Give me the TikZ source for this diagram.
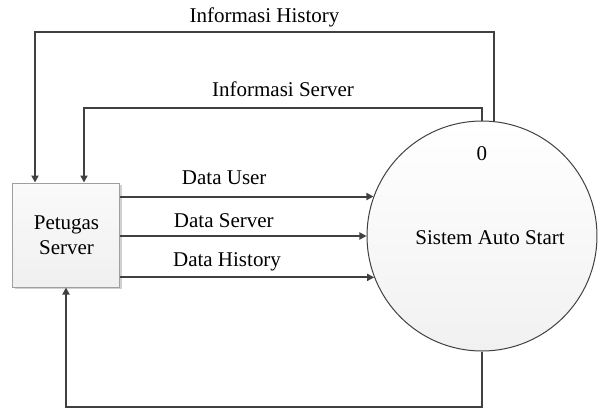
\documentclass[tikz,border=0pt]{standalone}
\usepackage{fontspec}
\setmainfont{Liberation Serif}
\usetikzlibrary{arrows.meta,positioning,calc,shadows}
\tikzset{
  entity/.style={
    rectangle, draw=gray!75, line width=0.5pt,
    top color=gray!4, bottom color=gray!12,
    minimum width=53.5pt, minimum height=52pt,
    align=center, font=\fontsize{10.5}{12.5}\selectfont,
    drop shadow={shadow xshift=1pt, shadow yshift=-1pt, fill=gray!60, opacity=0.6}
  },
  process/.style={
    circle, draw=black!75, line width=0.5pt,
    top color=white, bottom color=gray!11,
    minimum size=115pt, inner sep=0pt
  },
  arr/.style={-{Triangle[length=3.5pt,width=3.5pt]}, line width=1pt, draw=black!75},
  lbl/.style={font=\fontsize{10.5}{12.5}\selectfont, inner sep=0pt, text depth=0pt}
}

\begin{document}
\begin{tikzpicture}[x=0.5pt, y=-0.5pt]
  \useasboundingbox (0,0) rectangle (602,409);

  \node[entity] (petugas) at (66.5,235) {Petugas\\Server};
  \node[process] (proc) at (482,236) {};
  \node[lbl] (procnum) at ($(proc.center)+(0,-82)$) {0};
  \node[lbl, anchor=center] (procname) at ($(proc.center)+(8,2)$) {Sistem Auto Start};

  \coordinate (hl) at (35,32);
  \coordinate (sl) at (84,108);
  \coordinate (bl) at (66,407);

  % data flows into the process
  \draw[arr] (petugas.east |- proc.160) -- node[lbl, above=5.5pt, pos=0.41]{Data User} (proc.160);
  \draw[arr] (petugas.east |- proc.180) -- node[lbl, above=4pt, pos=0.42]{Data Server} (proc.180);
  \draw[arr] (petugas.east |- proc.201) -- node[lbl, above=5pt, pos=0.42]{Data History} (proc.201);

  % information back to the officer
  \draw[arr] (proc.84) -- (proc.84 |- hl)
    -- node[lbl, above=4.5pt]{Informasi History} (hl) -- (hl |- petugas.north);
  \draw[arr] (proc.north) -- (proc.north |- sl)
    -- node[lbl, above=5.5pt]{Informasi Server} (sl) -- (sl |- petugas.north);
  \draw[arr] (proc.south) -- (proc.south |- bl) -- (bl) -- (bl |- petugas.south);
\end{tikzpicture}
\end{document}
